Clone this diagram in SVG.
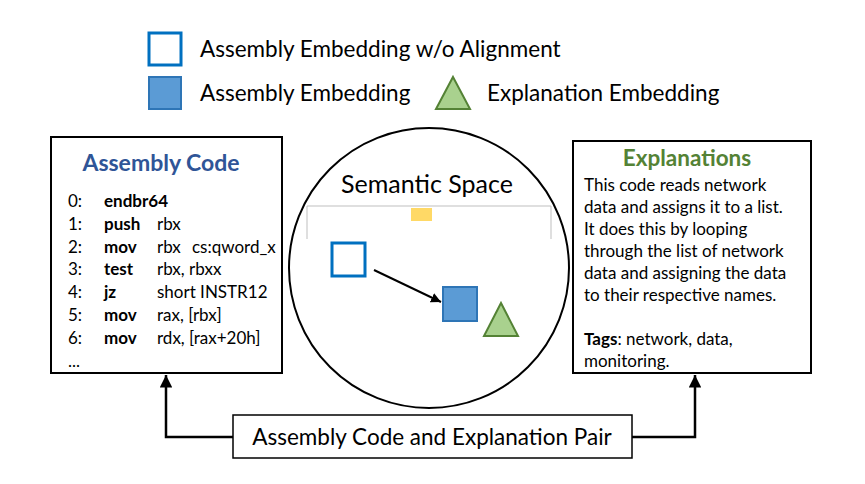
<svg xmlns="http://www.w3.org/2000/svg" width="865" height="484" viewBox="0 0 865 484">
<defs>
<style>
text{font-family:Lato,"Liberation Sans",sans-serif;fill:#000}
.leg{font-size:22.5px}
.code{font-size:17px}
.b{font-weight:bold}
.exp{font-size:17px}
.box{fill:#fff;stroke:#000;stroke-width:2}
.conn{fill:none;stroke:#000;stroke-width:2.5}
.hollow{fill:#fff;stroke:#0070C0;stroke-width:3}
.filled{fill:#5B9BD5;stroke:#2E75B6;stroke-width:2}
.tri{fill:#A9D18E;stroke:#548235;stroke-width:2}
</style>
<marker id="ah" viewBox="0 0 10 10" refX="10" refY="5" markerWidth="5" markerHeight="5" orient="auto" markerUnits="strokeWidth">
<path d="M0,0 L10,5 L0,10 Z" fill="#000"/>
</marker>
</defs>
<rect width="865" height="484" fill="#fff"/>

<g id="legend">
<rect class="hollow" x="149" y="33" width="32" height="32"/>
<text class="leg" x="200" y="57">Assembly Embedding w/o Alignment</text>
<rect class="filled" x="149" y="77" width="32" height="32"/>
<text class="leg" x="200" y="101">Assembly Embedding</text>
<polygon class="tri" points="453,77 470,109 436,109"/>
<text class="leg" x="487" y="101">Explanation Embedding</text>
</g>

<g id="assembly-code">
<rect class="box" x="51" y="137" width="231" height="236"/>
<text x="161" y="171" text-anchor="middle" font-size="23" font-weight="bold" style="fill:#2F5597">Assembly Code</text>
<g class="code">
<text x="68" y="207">0:</text><text class="b" x="104" y="207">endbr64</text>
<text x="68" y="230">1:</text><text class="b" x="104" y="230">push</text><text x="157" y="230">rbx</text>
<text x="68" y="253">2:</text><text class="b" x="104" y="253">mov</text><text x="157" y="253">rbx</text><text x="192" y="253">cs:qword_x</text>
<text x="68" y="275">3:</text><text class="b" x="104" y="275">test</text><text x="157" y="275">rbx, rbxx</text>
<text x="68" y="298">4:</text><text class="b" x="104" y="298">jz</text><text x="157" y="298">short INSTR12</text>
<text x="68" y="321">5:</text><text class="b" x="104" y="321">mov</text><text x="157" y="321">rax, [rbx]</text>
<text x="68" y="344">6:</text><text class="b" x="104" y="344">mov</text><text x="157" y="344">rdx, [rax+20h]</text>
<text x="68" y="367">...</text>
</g>
</g>

<g id="semantic-space">
<circle cx="429" cy="268" r="140" fill="#fff" stroke="#000" stroke-width="2"/>
<text x="427" y="193" text-anchor="middle" font-size="25">Semantic Space</text>
<path d="M307,239 V206 H551 V239" fill="none" stroke="#BFBFBF" stroke-width="1"/>
<rect x="411" y="208" width="21" height="13" fill="#FFD966"/>
<rect class="hollow" x="332" y="243" width="33" height="33"/>
<rect class="filled" x="443" y="287" width="34" height="34"/>
<polygon class="tri" points="501,303 518,336 484,336"/>
</g>

<g id="explanations">
<rect class="box" x="573" y="141" width="238" height="232"/>
<text x="687" y="166" text-anchor="middle" font-size="22.5" font-weight="bold" style="fill:#548235">Explanations</text>
<g class="exp">
<text x="584" y="191">This code reads network</text>
<text x="584" y="213">data and assigns it to a list.</text>
<text x="584" y="235">It does this by looping</text>
<text x="584" y="257">through the list of network</text>
<text x="584" y="279">data and assigning the data</text>
<text x="584" y="301">to their respective names.</text>
<text x="584" y="345"><tspan font-weight="bold">Tags</tspan>: network, data,</text>
<text x="584" y="367">monitoring.</text>
</g>
</g>

<g id="pair">
<rect x="233" y="415" width="399" height="43" fill="#fff" stroke="#000" stroke-width="1.5"/>
<text x="432" y="445" text-anchor="middle" font-size="22.5">Assembly Code and Explanation Pair</text>
</g>

<g id="connectors">
<path class="conn" d="M233,437 H166 V375" marker-end="url(#ah)"/>
<path class="conn" d="M632,437 H695 V375" marker-end="url(#ah)"/>
<line x1="374" y1="270" x2="441" y2="302" stroke="#000" stroke-width="2" marker-end="url(#ah)"/>
</g>
</svg>
